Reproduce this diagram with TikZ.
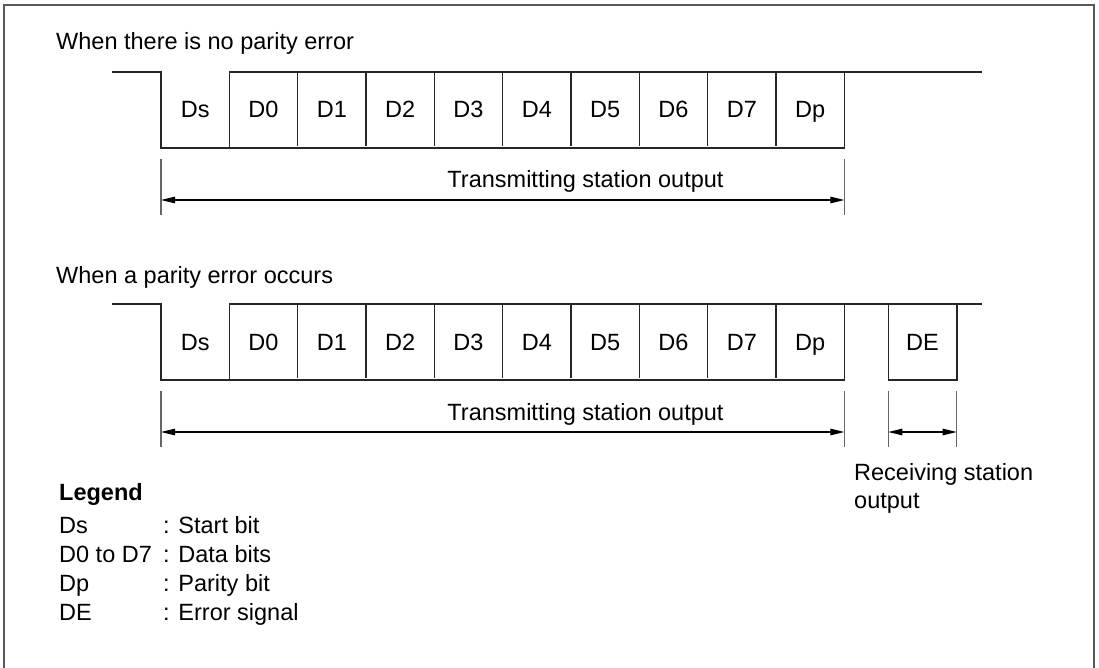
\documentclass[tikz,border=0pt]{standalone}
\usepackage{fontspec}
\setmainfont{Liberation Sans}
\usetikzlibrary{arrows.meta}
\begin{document}
\begin{tikzpicture}[x=1pt,y=-1pt, line cap=butt,
  sig/.style={line width=1.6pt, draw=black!85},
  dimline/.style={line width=1.3pt, draw=black!60},
  arr/.style={line width=1.1pt, draw=black, {Triangle[length=14pt,width=6.5pt]}-{Triangle[length=14pt,width=6.5pt]}},
  txt/.style={inner sep=0pt, font=\fontsize{23.5}{28}\selectfont},
  lbl/.style={txt, anchor=base},
  lft/.style={txt, anchor=base west},
]
\useasboundingbox (0,0) rectangle (1099,668);
\draw[line width=2pt, black!65] (4,668) -- (4,5) -- (1094,5) -- (1094,668);

% titles
\node[lft] (t1) at (56,50) {When there is no parity error};
\node[lft] (t2) at (56,283) {When a parity error occurs};

\foreach \r/\dy in {1/0, 2/232} {
  \begin{scope}[yshift=-\dy pt]
    % signal
    \draw[sig] (112,72) -- (161,72) -- (161,148) -- (844.3,148) -- (844.3,72);
    \draw[sig] (229.3,148) -- (229.3,72) -- (982,72);
    \foreach \i in {2,...,9} {
      \draw[sig] ({161+\i*68.33},72) -- ({161+\i*68.33},146);
    }
    % labels
    \foreach \t [count=\k from 0] in {Ds,D0,D1,D2,D3,D4,D5,D6,D7,Dp} {
      \node[lbl] (c\r-\k) at ({161+(\k+0.5)*68.33},118) {\t};
    }
    % dimension
    \coordinate (a\r-l) at (161,200);
    \coordinate (a\r-r) at (844.3,200);
    \draw[dimline] (161,159) -- (161,215);
    \draw[dimline] (844.3,159) -- (844.3,215);
    \draw[arr] (a\r-l) -- (a\r-r);
    \node[lbl] (tx\r) at (585.5,188) {Transmitting station output};
  \end{scope}
}

% error signal DE
\draw[sig] (888.3,304) -- (888.3,380) -- (956.7,380) -- (956.7,304);
\node[lbl] (de) at (922.5,350) {DE};
\coordinate (b-l) at (888.3,432);
\coordinate (b-r) at (956.7,432);
\draw[dimline] (888.3,391) -- (888.3,447);
\draw[dimline] (956.7,391) -- (956.7,447);
\draw[arr] (b-l) -- (b-r);
\node[lft] (rx1) at (854,480) {Receiving station};
\node[lft] (rx2) at (854,508) {output};

% legend
\node[lft, font=\fontsize{23.5}{28}\selectfont\bfseries] (lg) at (59,500) {Legend};
\node[lft] (l1) at (59,533) {Ds};
\node[lft] (l2) at (59,562) {D0 to D7};
\node[lft] (l3) at (59,591) {Dp};
\node[lft] (l4) at (59,620) {DE};
\node[lft] (d1) at (163,533) {: Start bit};
\node[lft] (d2) at (163,562) {: Data bits};
\node[lft] (d3) at (163,591) {: Parity bit};
\node[lft] (d4) at (163,620) {: Error signal};
\end{tikzpicture}
\end{document}
